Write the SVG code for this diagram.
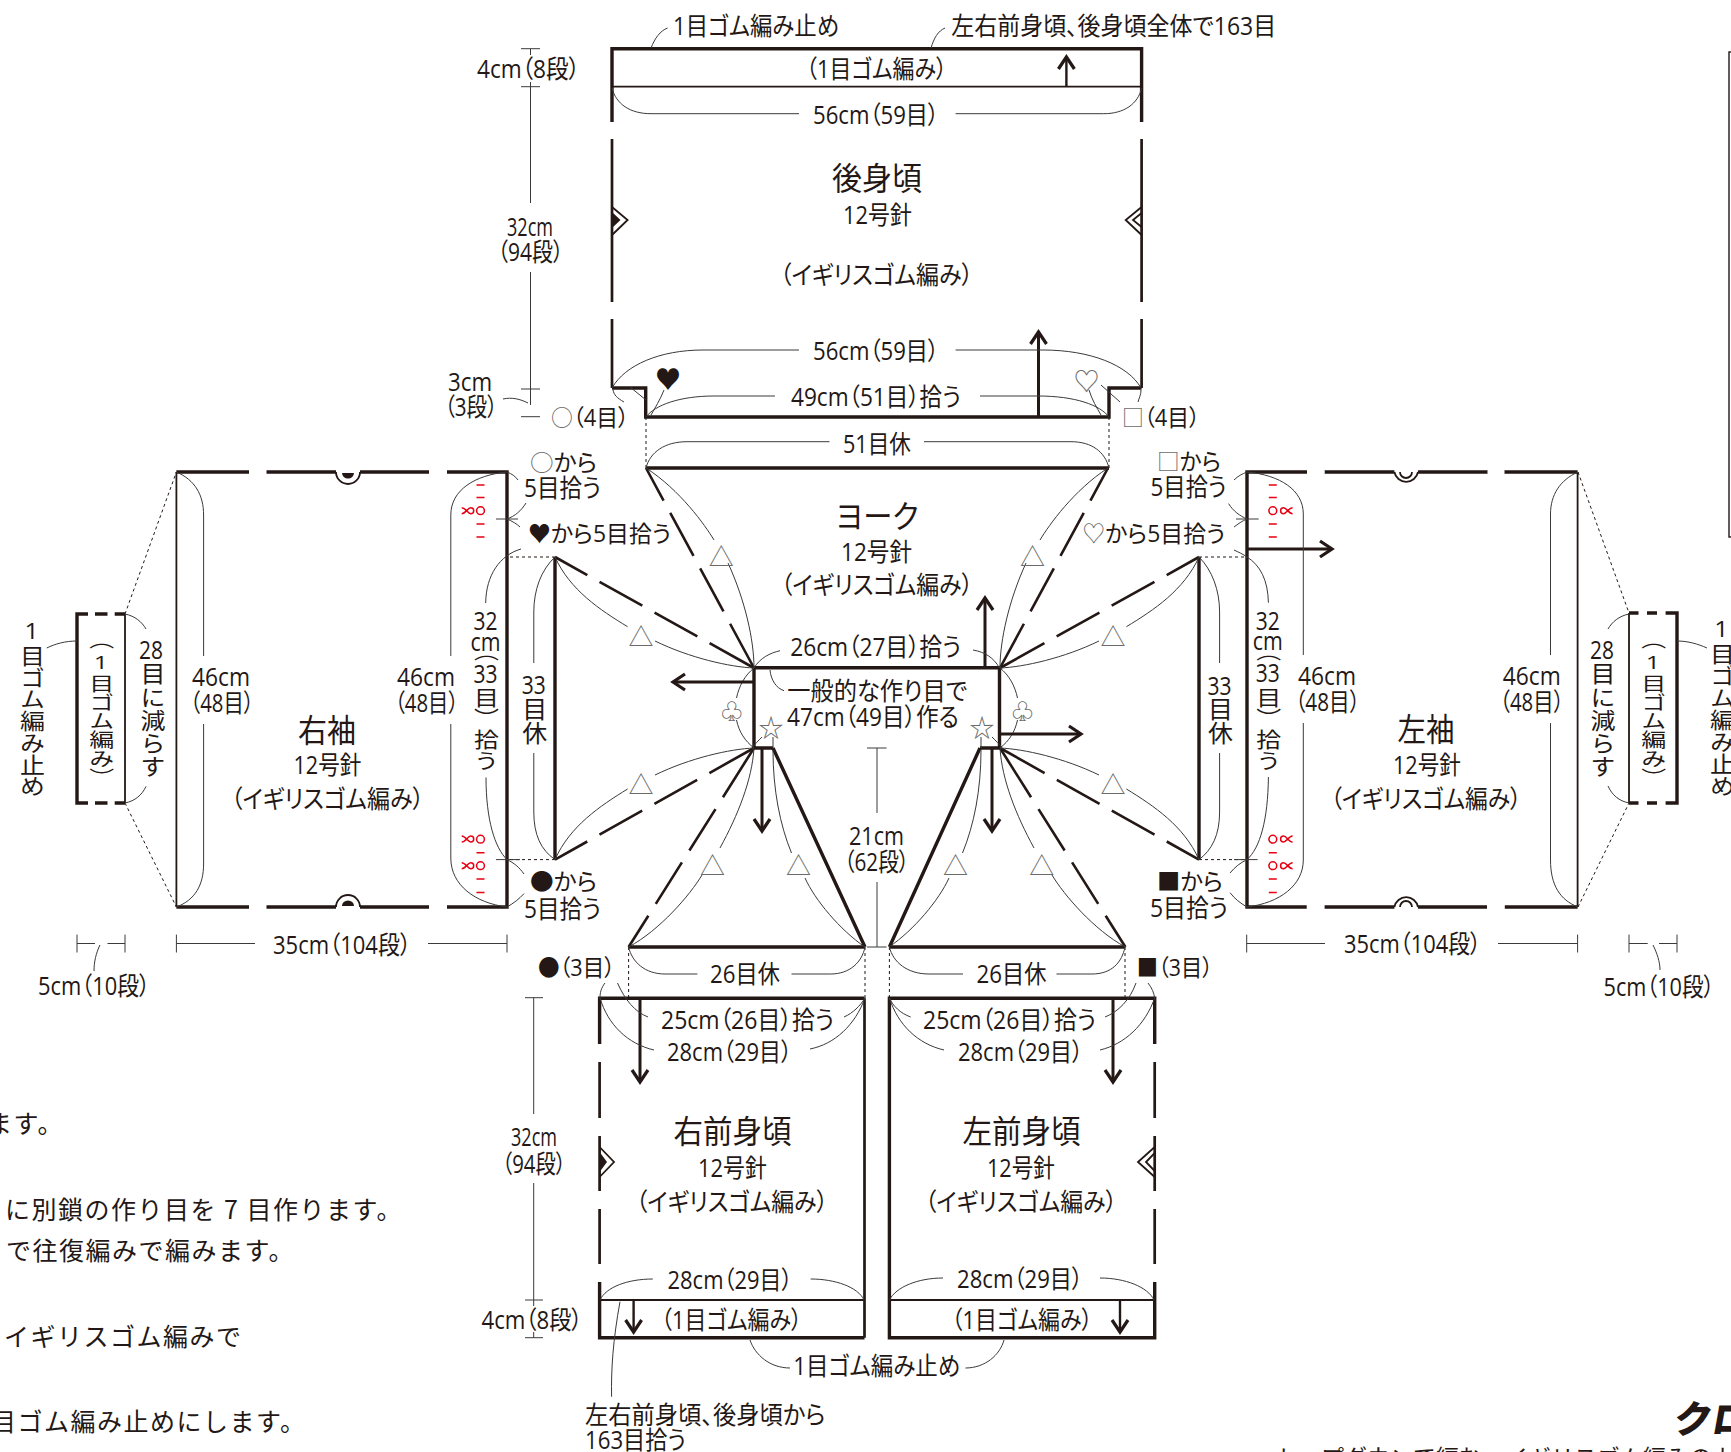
<svg xmlns="http://www.w3.org/2000/svg" xmlns:xlink="http://www.w3.org/1999/xlink" width="1731" height="1452" viewBox="0 0 1731 1452">
<style>
text{font-family:"Open Sans","Noto Sans CJK JP",sans-serif;font-size:25px;fill:#231815;font-feature-settings:"palt"}
.c{text-anchor:middle;dominant-baseline:central;translate:0 -1.5px}
.b{font-size:32px}
.y{font-size:23px}
.v{writing-mode:vertical-rl;text-orientation:upright;font-feature-settings:normal}
.i{font-family:"Noto Sans CJK JP",sans-serif;font-feature-settings:normal;letter-spacing:1.5px;dominant-baseline:central;translate:0 -1.5px}
.g{fill:#6b6b6b}
.s{font-family:"Noto Sans CJK JP",sans-serif;font-feature-settings:normal;fill:#6b6b6b;text-anchor:middle;dominant-baseline:central}
.cl{font-size:22px}
path,line{fill:none;stroke:#231815}
.k{stroke-width:3.4}
.m{stroke-width:2.7}
.h{stroke-width:1.8}
.n{stroke-width:1;stroke:#3a3a3a}
.d{stroke-width:1;stroke-dasharray:3 3}
.r{stroke-width:2.6;stroke-dasharray:37 14 49 14 49 14 70}
.a{stroke-width:3;marker-end:url(#ah)}
.a2{stroke-width:2.4;marker-end:url(#ah)}
.f{fill:#231815;stroke:none}
.red{stroke:#e60012;stroke-width:1.5}
</style>
<defs>
<marker id="ah" markerUnits="userSpaceOnUse" markerWidth="24" markerHeight="24" refX="16" refY="12" orient="auto"><path d="M4,4 L16,12 L4,20" stroke="#231815" stroke-width="3.2" fill="none"/></marker>
<path id="tw" class="red" d="M-5,-3 C-1,-3 1,3 4,3 A3,3 0 0 0 4,-3 C1,-3 -1,3 -5,3"/>
<g id="mL">
<path class="red" d="M-4,-25.7H4M-4,-13.2H4M-4,13.3H4M-4,26.2H4"/>
<circle r="3.9" fill="none" stroke="#e60012" stroke-width="1.5"/>
</g>
<g id="mB">
<circle r="3.9" cy="-26.5" fill="none" stroke="#e60012" stroke-width="1.5"/>
<circle r="3.9" fill="none" stroke="#e60012" stroke-width="1.5"/>
<path class="red" d="M-4,-13H4M-4,13.3H4M-4,26.8H4"/>
</g>
</defs>

<g id="back">
<path class="k" d="M612,122V48.7H1141.6V122M612,388H645.7V417H1109V388H1141.6"/>
<path class="m" d="M612,139V302M612,319V388M1141.6,139V302M1141.6,319V388"/>
<line class="h" x1="612" y1="86.7" x2="1141.6" y2="86.7"/>
<path class="h" d="M612,207L627.6,220L612,235M1141.6,207L1125.7,220L1141.6,235M1141.6,213L1133,220L1141.6,227"/>
<path class="f" d="M612,212L620.5,220L612,228Z"/>
<text class="c" x="876.5" y="69" lengthAdjust="spacingAndGlyphs" textLength="141">（1目ゴム編み）</text>
<text class="c b" x="877" y="179" lengthAdjust="spacingAndGlyphs" textLength="90">後身頃</text>
<text class="c" x="877.5" y="215" lengthAdjust="spacingAndGlyphs" textLength="69">12号針</text>
<text class="c" x="876.5" y="275" lengthAdjust="spacingAndGlyphs" textLength="193">（イギリスゴム編み）</text>
</g>

<g id="yoke">
<path class="k" d="M646,468H1109M754,748H773M980,748H999.5L999.5,667.7H754V748"/>
<text class="c b" x="877" y="516.7" lengthAdjust="spacingAndGlyphs" textLength="83">ヨーク</text>
<text class="c" x="876.5" y="552" lengthAdjust="spacingAndGlyphs" textLength="71">12号針</text>
<text class="c" x="877" y="585.7" lengthAdjust="spacingAndGlyphs" textLength="192">（イギリスゴム編み）</text>
<path class="k" d="M773,748L865,947M628.6,947H865M980,748L889.4,947M889.4,947H1125"/>
<path class="k" d="M555,557V859.6M1199,557V859.6"/>
</g>

<g id="sleeve-right">
<path class="k" d="M176.4,472H249M266.5,472H336M360,472H429M447,472H507V907H447M429,907H360M336,907H266.5M249,907H176.4"/>
<path class="h" d="M176.4,472V907M125,614V803"/>
<path class="k" d="M88,614H77V803H88M95,614H107.5M114.7,614H125M95,803H107.5M114.7,803H125"/>
<path class="h" d="M336,472A12,12 0 0 0 360,472M336,907A12,12 0 0 1 360,907"/>
<path class="f" d="M342,473A6,5.5 0 0 0 354,473ZM342,906A6,5.5 0 0 1 354,906Z"/>
<text class="c b" x="327" y="731" lengthAdjust="spacingAndGlyphs" textLength="58">右袖</text>
<text class="c" x="327.5" y="765.7" lengthAdjust="spacingAndGlyphs" textLength="68">12号針</text>
<text class="c" x="327.5" y="799" lengthAdjust="spacingAndGlyphs" textLength="193">（イギリスゴム編み）</text>
<text class="v" x="100.8" y="630" lengthAdjust="spacingAndGlyphs" textLength="157">（1目ゴム編み）</text>
<use xlink:href="#mL" x="480.5" y="510.7"/><use xlink:href="#tw" x="466.7" y="510.7"/>
<use xlink:href="#mB" x="480.5" y="865.7"/><use xlink:href="#tw" x="466.7" y="839"/><use xlink:href="#tw" x="466.7" y="865.7"/>
</g>

<g id="sleeve-left">
<path class="k" d="M1307,472H1247V907H1306.7M1324.7,472H1394.4M1418,472H1487.5M1504.5,472H1577.6M1324.6,907H1394.4M1418,907H1487M1504.8,907H1577.6"/>
<path class="h" d="M1577.6,472V907M1629,613V803"/>
<path class="k" d="M1629,613H1638.5M1647,613H1657M1665.6,613H1677V803H1665.6M1647,803H1657M1629,803H1638.5"/>
<path class="h" d="M1394.4,472A12,12 0 0 0 1418,472M1394.4,907A12,12 0 0 1 1418,907M1400,472A6,6 0 0 0 1412,472M1400,907A6,6 0 0 1 1412,907"/>
<text class="c b" x="1426" y="730" lengthAdjust="spacingAndGlyphs" textLength="57">左袖</text>
<text class="c" x="1427" y="765.7" lengthAdjust="spacingAndGlyphs" textLength="68">12号針</text>
<text class="c" x="1426" y="799" lengthAdjust="spacingAndGlyphs" textLength="191">（イギリスゴム編み）</text>
<text class="v" x="1652.8" y="630" lengthAdjust="spacingAndGlyphs" textLength="157">（1目ゴム編み）</text>
<use xlink:href="#mL" x="1272.8" y="510.7"/><use xlink:href="#tw" transform="translate(1287.6,510.7) scale(-1,1)"/>
<use xlink:href="#mB" x="1272.8" y="865.7"/><use xlink:href="#tw" transform="translate(1287.6,839) scale(-1,1)"/><use xlink:href="#tw" transform="translate(1287.6,865.7) scale(-1,1)"/>
</g>

<g id="front-right">
<path class="k" d="M599.6,1044V998.3H864.5M599.6,1282V1337.7H864.5"/>
<path class="m" d="M864.5,998.3V1337.7M599.6,1062V1118M599.6,1136V1191M599.6,1209V1264"/>
<line class="h" x1="599.6" y1="1300" x2="864.5" y2="1300"/>
<path class="h" d="M599.6,1147L614,1162L599.6,1177"/>
<path class="f" d="M599.6,1152L607,1162L599.6,1172Z"/>
<text class="c b" x="732.5" y="1131.7" lengthAdjust="spacingAndGlyphs" textLength="118">右前身頃</text>
<text class="c" x="732.5" y="1168" lengthAdjust="spacingAndGlyphs" textLength="69">12号針</text>
<text class="c" x="732" y="1202.7" lengthAdjust="spacingAndGlyphs" textLength="192">（イギリスゴム編み）</text>
<text class="c" x="731.5" y="1320.7" lengthAdjust="spacingAndGlyphs" textLength="141">（1目ゴム編み）</text>
</g>

<g id="front-left">
<path class="k" d="M1154.7,1044V998.3H889.4V1337.7H1154.7V1282"/>
<path class="m" d="M1154.7,1062V1118M1154.7,1136V1191M1154.7,1209V1264"/>
<line class="h" x1="889.4" y1="1300" x2="1154.7" y2="1300"/>
<path class="h" d="M1154.7,1147L1138,1162L1154.7,1177M1154.7,1153L1146,1162L1154.7,1171"/>
<text class="c b" x="1021.5" y="1131.7" lengthAdjust="spacingAndGlyphs" textLength="118">左前身頃</text>
<text class="c" x="1021" y="1168" lengthAdjust="spacingAndGlyphs" textLength="68">12号針</text>
<text class="c" x="1021" y="1202.7" lengthAdjust="spacingAndGlyphs" textLength="192">（イギリスゴム編み）</text>
<text class="c" x="1022" y="1320" lengthAdjust="spacingAndGlyphs" textLength="141">（1目ゴム編み）</text>
</g>

<g id="connectors">
<g id="half">
<line class="r" x1="646" y1="468" x2="754" y2="668"/>
<line class="r" x1="555" y1="557" x2="754" y2="668"/>
<line class="r" x1="555" y1="859.6" x2="754" y2="748"/>
<line class="r" x1="628.6" y1="947" x2="754" y2="748"/>
<path class="n" d="M646,468C680,490 705,525 714,540M728,563C745,600 754,640 754,668"/>
<path class="n" d="M555,557C570,590 600,610 627.6,626.7M655,641C690,658 730,667 754,668"/>
<path class="n" d="M555,859.6C570,826 600,806 627.6,789M655,775C690,758 730,749 754,748"/>
<path class="n" d="M628.6,947C660,930 690,895 702,875M720,848C738,815 752,780 754,748"/>
<path class="n" d="M865,947C840,930 815,900 805,878M791.5,853C780,825 773,790 773,750"/>
<path class="n" d="M754,668C745,675 739,686 736.5,698M736.5,720C739,732 745,741 754,748"/>
<path class="n" d="M762,737C758,741 755,744 752.5,747M773,737V748"/>
</g>
<use xlink:href="#half" transform="translate(1754,0) scale(-1,1)"/>

<path class="d" d="M646,417V468M1109,417V468M555,557H507M1199,557H1247M555,859.6H507M1199,859.6H1247M628.6,947V998M865,947V998M889.4,947V998M1125,947V998M125,614L176.4,472M125,803L176.4,907M1578,472L1629,613M1578,907L1629,803"/>

<path class="a2" d="M1066.4,86.7V57"/>
<path class="a" d="M1038.5,417V332"/>
<path class="a" d="M985,667V598"/>
<path class="a" d="M754,682H673"/>
<path class="a" d="M999.5,734H1081"/>
<path class="a" d="M762,748V831"/>
<path class="a" d="M992,748V831"/>
<path class="a" d="M640,998V1082"/>
<path class="a" d="M1113,998V1082"/>
<path class="a2" d="M633.6,1300V1332"/>
<path class="a2" d="M1120,1300V1332"/>
<path class="a" d="M1247,549H1332"/>

<path class="n" d="M651,48C655,38 660,31 667.6,28M931,48C934,38 938,31 945,28"/>
<path class="n" d="M612,88C616,104 630,113.7 651,113.7H799M955.6,113.7H1103.7C1124,113.7 1138,104 1141.6,88"/>
<path class="n" d="M612,388C625,365 660,350 703,350H799M955.6,350H1043C1090,350 1128,365 1141,388"/>
<path class="n" d="M646,417C655,405 680,396 714,396H775M980,396H1038C1075,396 1100,405 1109,417"/>
<path class="n" d="M664,390C660,400 655,408 651,415M1089,390C1092,400 1097,408 1101,415M613,390C614,395 617,398 624,402M1141,390C1141,395 1139,398 1138,402M1101,385L1120,402M630,387L646,400"/>
<path class="n" d="M503,399C512,397 520,399 528,403"/>
<path class="n" d="M646,468C650,452 665,441.7 687,441.7H829.5M924,441.7H1071C1092,441.7 1105,452 1109,468"/>
<path class="n" d="M754,668C760,658 770,653 780,650.7M973,650C985,652 994,658 999.5,668M770,670C771,680 776,688 784,690.7"/>
<path class="n" d="M628.6,947C632,962 645,974 665,974H697.4M791.5,974H830.6C850,974 862,962 865,947"/>
<path class="n" d="M889.4,947C893,962 907,974 929,974H963M1056.5,974H1092C1112,974 1122,962 1125,947"/>
<path class="n" d="M617.5,983C625,1000 635,1012 648,1017M605,983C601,988 600,993 600,998M865,998C860,1006 853,1013 844,1017M600,998C608,1025 628,1044 654,1050M865,998C855,1025 835,1044 810,1049"/>
<path class="n" d="M889.4,998C893,1006 900,1013 910.6,1017M1136,983C1130,1000 1118,1012 1105,1017M1148,983C1152,988 1154,993 1154.7,998M889.4,998C898,1025 918,1044 944,1050M1154.7,998C1145,1025 1125,1044 1100,1050"/>
<path class="n" d="M600,1300C606,1287 628,1279 652.8,1279M810.7,1279C835,1279 858,1287 864,1300M889.4,1300C896,1287 918,1278 943,1278M1100,1278C1125,1278 1148,1287 1154,1300"/>
<path class="n" d="M750,1340C755,1355 770,1368 790,1368M1004,1340C1000,1355 985,1368 965.5,1368M620,1301.7C613,1340 611,1370 611.6,1396.7"/>
<path class="n" d="M530.5,48.7V55M521,48.7H540M530.5,82V203M530.5,272V389M521,86.7H540M521,389H540M530.5,389V405M521,416.7H540"/>
<path class="n" d="M533.7,997.7V1114M533.7,1183V1300M525,997.7H543M525,1300H543M533.7,1300V1306M533.7,1332V1337.7M525,1337.7H543"/>
<path class="n" d="M877,748V813M867,748H886.6M877,882V947M867,947H886.6"/>
<path class="n" d="M176.4,934.6V952.5M507,934.6V952.5M176.4,943.5H255M428,943.5H507M77,934.6V952.5M125,934.6V952.5M77,943.5H95M107.5,943.5H125M100,945C96,953 94,962 94,971"/>
<path class="n" d="M1246.7,934.6V952.5M1577.6,934.6V952.5M1246.7,943.5H1325M1498,943.5H1577.6M1629,934.6V952.5M1677,934.6V952.5M1629,943.5H1647.7M1659,943.5H1677M1653,945C1657,953 1660,962 1660,970"/>
<path class="n" d="M176.4,472C195,480 203.6,495 203.6,515V656M203.6,724V864C203.6,885 195,900 176.4,907"/>
<path class="n" d="M507,472C475,475 450.8,490 450.8,515V656M450.8,724V858C450.8,885 475,903 507,907"/>
<path class="n" d="M1247,472C1280,475 1303.3,490 1303.3,514V655M1303.3,723V860C1303.3,885 1280,903 1247,907"/>
<path class="n" d="M1578,472C1560,480 1550.5,495 1550.5,514V655M1550.5,723V860C1550.5,885 1560,900 1578,907"/>
<path class="n" d="M518,480C515,476 512,474 507,472M526,503C521,511 515,516 507,519H496M507,519H518M520,527C517,524 512,521 507,519M521,549C500,555 486,575 485.7,603M486,777.5C486,820 495,848 507,859.6M496,859.6H520M524,874C519,867 514,863 507,859.6M524,893.6C519,899 514,903 507,907"/>
<path class="n" d="M555,557C541,570 533.8,590 533.8,612V663M533.8,753V812C533.8,835 541,850 555,859.6"/>
<path class="n" d="M1234,480C1238,476 1242,474 1247,472M1228.6,503.6C1233,511 1240,516 1247,519M1236,519H1258.7M1234,527C1238,524 1242,521 1247,519M1234,550C1238,552 1243,554 1247,557M1268.4,602.7C1268,580 1260,565 1247,557M1268.4,777C1268,820 1260,848 1247,859.6M1234,859.6H1257.6M1230,873C1235,867 1240,863 1247,859.6M1230,892.7C1235,899 1240,903 1247,907"/>
<path class="n" d="M1199,557C1212,570 1219.6,590 1219.6,612V663M1219.6,753V812C1219.6,835 1212,850 1199,859.6"/>
<path class="n" d="M125,614C135,616 142,622 146,629M125,803C135,801 142,795 146,786.4M46.7,648C55,644 65,641 77,641"/>
<path class="n" d="M1629,614C1619,616 1612,622 1608,629M1629,803C1619,801 1612,795 1608,786M1677,641C1688,641 1698,644 1707,648"/>

<text class="s" x="721.3" y="555">△</text><text class="s" x="1032.6" y="555">△</text>
<text class="s" x="641" y="635">△</text><text class="s" x="1113" y="635">△</text>
<text class="s" x="641" y="783">△</text><text class="s" x="1113" y="783">△</text>
<text class="s" x="712.6" y="864">△</text><text class="s" x="798.4" y="864">△</text>
<text class="s" x="955.5" y="864">△</text><text class="s" x="1041.8" y="864">△</text>
<text class="s cl" x="731.7" y="709.3">♧</text><text class="s cl" x="1022.5" y="709.3">♧</text>
<text class="s" x="771" y="725.7">☆</text><text class="s" x="982" y="725.7">☆</text>
<text class="c" style="font-size:26px;font-family:'Noto Sans CJK JP',sans-serif" x="668" y="379">♥</text>
<text class="s" style="font-size:26px" x="1086.5" y="379">♡</text>

<text class="c" x="756" y="26.7" lengthAdjust="spacingAndGlyphs" textLength="166">1目ゴム編み止め</text>
<text class="c" x="1113.7" y="26.7" lengthAdjust="spacingAndGlyphs" textLength="325">左右前身頃、後身頃全体で163目</text>
<text class="c" x="528.5" y="69" lengthAdjust="spacingAndGlyphs" textLength="103">4cm（8段）</text>
<text class="c" x="876" y="115" lengthAdjust="spacingAndGlyphs" textLength="126">56cm（59目）</text>
<text class="c" x="530" y="227" lengthAdjust="spacingAndGlyphs" textLength="46">32cm</text>
<text class="c" x="530.5" y="252" lengthAdjust="spacingAndGlyphs" textLength="66">（94段）</text>
<text class="c" x="876" y="351" lengthAdjust="spacingAndGlyphs" textLength="126">56cm（59目）</text>
<text class="c" x="876" y="397" lengthAdjust="spacingAndGlyphs" textLength="170">49cm（51目）拾う</text>
<text class="c" x="470" y="382" lengthAdjust="spacingAndGlyphs" textLength="44">3cm</text>
<text class="c" x="471" y="407" lengthAdjust="spacingAndGlyphs" textLength="53">（3段）</text>
<text class="c y" x="590" y="418" lengthAdjust="spacingAndGlyphs" textLength="78"><tspan class="g">○</tspan>（4目）</text>
<text class="c y" x="1161" y="418" lengthAdjust="spacingAndGlyphs" textLength="78"><tspan class="g">□</tspan>（4目）</text>
<text class="c" x="877" y="444" lengthAdjust="spacingAndGlyphs" textLength="68">51目休</text>
<text class="c y" x="563.5" y="463" lengthAdjust="spacingAndGlyphs" textLength="67"><tspan class="g">○</tspan>から</text>
<text class="c" x="562.5" y="488" lengthAdjust="spacingAndGlyphs" textLength="77">5目拾う</text>
<text class="c y" x="599.5" y="534" lengthAdjust="spacingAndGlyphs" textLength="143">♥から5目拾う</text>
<text class="c y" x="563.5" y="882" lengthAdjust="spacingAndGlyphs" textLength="67">●から</text>
<text class="c" x="562.5" y="909" lengthAdjust="spacingAndGlyphs" textLength="77">5目拾う</text>
<text class="c y" x="1189" y="462.5" lengthAdjust="spacingAndGlyphs" textLength="64"><tspan class="g">□</tspan>から</text>
<text class="c" x="1188.6" y="487.5" lengthAdjust="spacingAndGlyphs" textLength="76">5目拾う</text>
<text class="c y" x="1153.7" y="534" lengthAdjust="spacingAndGlyphs" textLength="143"><tspan class="g">♡</tspan>から5目拾う</text>
<text class="c y" x="1190" y="882" lengthAdjust="spacingAndGlyphs" textLength="66">■から</text>
<text class="c" x="1189" y="908.6" lengthAdjust="spacingAndGlyphs" textLength="78">5目拾う</text>
<text class="c" x="875.7" y="647.3" lengthAdjust="spacingAndGlyphs" textLength="171">26cm（27目）拾う</text>
<text class="c" x="877.2" y="691.7" lengthAdjust="spacingAndGlyphs" textLength="180">一般的な作り目で</text>
<text class="c" x="873" y="717" lengthAdjust="spacingAndGlyphs" textLength="172">47cm（49目）作る</text>
<text class="c" x="876.5" y="836" lengthAdjust="spacingAndGlyphs" textLength="55">21cm</text>
<text class="c" x="876.7" y="862.7" lengthAdjust="spacingAndGlyphs" textLength="65">（62段）</text>
<text class="c" x="745" y="974" lengthAdjust="spacingAndGlyphs" textLength="70">26目休</text>
<text class="c" x="1011.5" y="974" lengthAdjust="spacingAndGlyphs" textLength="70">26目休</text>
<text class="c y" x="576.5" y="968" lengthAdjust="spacingAndGlyphs" textLength="77">●（3目）</text>
<text class="c y" x="1174.8" y="968" lengthAdjust="spacingAndGlyphs" textLength="76">■（3目）</text>
<text class="c" x="747.5" y="1020.7" lengthAdjust="spacingAndGlyphs" textLength="173">25cm（26目）拾う</text>
<text class="c" x="1009.5" y="1020.7" lengthAdjust="spacingAndGlyphs" textLength="173">25cm（26目）拾う</text>
<text class="c" x="729.5" y="1052" lengthAdjust="spacingAndGlyphs" textLength="125">28cm（29目）</text>
<text class="c" x="1020.5" y="1052" lengthAdjust="spacingAndGlyphs" textLength="125">28cm（29目）</text>
<text class="c" x="534" y="1137" lengthAdjust="spacingAndGlyphs" textLength="46">32cm</text>
<text class="c" x="534" y="1164" lengthAdjust="spacingAndGlyphs" textLength="64">（94段）</text>
<text class="c" x="532" y="1320.7" lengthAdjust="spacingAndGlyphs" textLength="101">4cm（8段）</text>
<text class="c" x="730" y="1280" lengthAdjust="spacingAndGlyphs" textLength="125">28cm（29目）</text>
<text class="c" x="1020" y="1279" lengthAdjust="spacingAndGlyphs" textLength="126">28cm（29目）</text>
<text class="c" x="876.7" y="1366.7" lengthAdjust="spacingAndGlyphs" textLength="167">1目ゴム編み止め</text>
<text x="585" y="1414" style="dominant-baseline:central" lengthAdjust="spacingAndGlyphs" textLength="240.6">左右前身頃、後身頃から</text>
<text x="585" y="1439" style="dominant-baseline:central" lengthAdjust="spacingAndGlyphs" textLength="101">163目拾う</text>
<text class="c" x="221" y="677" lengthAdjust="spacingAndGlyphs" textLength="58">46cm</text>
<text class="c" x="222" y="703" lengthAdjust="spacingAndGlyphs" textLength="64">（48目）</text>
<text class="c" x="426" y="677" lengthAdjust="spacingAndGlyphs" textLength="58">46cm</text>
<text class="c" x="426.6" y="703" lengthAdjust="spacingAndGlyphs" textLength="64">（48目）</text>
<text class="c" x="1327" y="676.7" lengthAdjust="spacingAndGlyphs" textLength="58">46cm</text>
<text class="c" x="1327.5" y="702.7" lengthAdjust="spacingAndGlyphs" textLength="65">（48目）</text>
<text class="c" x="1531.8" y="676.7" lengthAdjust="spacingAndGlyphs" textLength="58">46cm</text>
<text class="c" x="1531.8" y="702.7" lengthAdjust="spacingAndGlyphs" textLength="64">（48目）</text>
<text class="c" x="342" y="945" lengthAdjust="spacingAndGlyphs" textLength="138">35cm（104段）</text>
<text class="c" x="1412.5" y="944" lengthAdjust="spacingAndGlyphs" textLength="137">35cm（104段）</text>
<text class="c" x="94" y="986.4" lengthAdjust="spacingAndGlyphs" textLength="112">5cm（10段）</text>
<text class="c" x="1659" y="987.7" lengthAdjust="spacingAndGlyphs" textLength="111">5cm（10段）</text>

<text class="c" x="151" y="650.7" lengthAdjust="spacingAndGlyphs" textLength="24">28</text>
<text class="v" x="152" y="662" lengthAdjust="spacingAndGlyphs" textLength="116">目に減らす</text>
<text class="c" x="1602" y="650" lengthAdjust="spacingAndGlyphs" textLength="24">28</text>
<text class="v" x="1602" y="662" lengthAdjust="spacingAndGlyphs" textLength="116">目に減らす</text>
<text class="v" x="31.6" y="615" lengthAdjust="spacingAndGlyphs" textLength="182">1目ゴム編み止め</text>
<text class="v" x="1721.5" y="613" lengthAdjust="spacingAndGlyphs" textLength="184">1目ゴム編み止め</text>

<text class="c" x="485.6" y="621.4" lengthAdjust="spacingAndGlyphs" textLength="24">32</text>
<text class="c" x="485.6" y="642" lengthAdjust="spacingAndGlyphs" textLength="30">cm</text>
<text class="v" x="485.6" y="643" lengthAdjust="spacingAndGlyphs" textLength="18">（</text>
<text class="c" x="485.6" y="674" lengthAdjust="spacingAndGlyphs" textLength="24">33</text>
<text class="v" x="485.6" y="687" lengthAdjust="spacingAndGlyphs" textLength="84">目）拾う</text>
<text class="c" x="533.8" y="685.7" lengthAdjust="spacingAndGlyphs" textLength="24">33</text>
<text class="v" x="533.8" y="697" lengthAdjust="spacingAndGlyphs" textLength="48">目休</text>
<text class="c" x="1267.7" y="621.7" lengthAdjust="spacingAndGlyphs" textLength="24">32</text>
<text class="c" x="1267.7" y="641.7" lengthAdjust="spacingAndGlyphs" textLength="30">cm</text>
<text class="v" x="1267.7" y="643" lengthAdjust="spacingAndGlyphs" textLength="18">（</text>
<text class="c" x="1267.7" y="673" lengthAdjust="spacingAndGlyphs" textLength="24">33</text>
<text class="v" x="1267.7" y="687" lengthAdjust="spacingAndGlyphs" textLength="84">目）拾う</text>
<text class="c" x="1219.6" y="686" lengthAdjust="spacingAndGlyphs" textLength="24">33</text>
<text class="v" x="1219.6" y="697" lengthAdjust="spacingAndGlyphs" textLength="48">目休</text>
</g>

<g id="notes">
<text class="i" x="-13" y="1123">ます。</text>
<text class="i" x="5" y="1209">に別鎖の作り目を 7 目作ります。</text>
<text class="i" x="6" y="1250.7">で往復編みで編みます。</text>
<text class="i" x="4" y="1336">イギリスゴム編みで</text>
<text class="i" x="-9" y="1421.7">目ゴム編み止めにします。</text>
</g>

<g id="panel">
<rect x="1729" y="52" width="20" height="485" fill="none" stroke="#231815" stroke-width="1.4"/>
</g>

<g id="brand">
<text transform="translate(1672,1433) skewX(-10)" style="font-family:'Noto Sans CJK JP',sans-serif;font-weight:900;font-size:38px;font-feature-settings:normal">クロ</text>
<text x="1275" y="1466" style="font-family:'Noto Sans CJK JP',sans-serif;font-size:23px;font-feature-settings:normal">トップダウンで編む、イギリスゴム編みのカーディガン</text>
</g>
</svg>
